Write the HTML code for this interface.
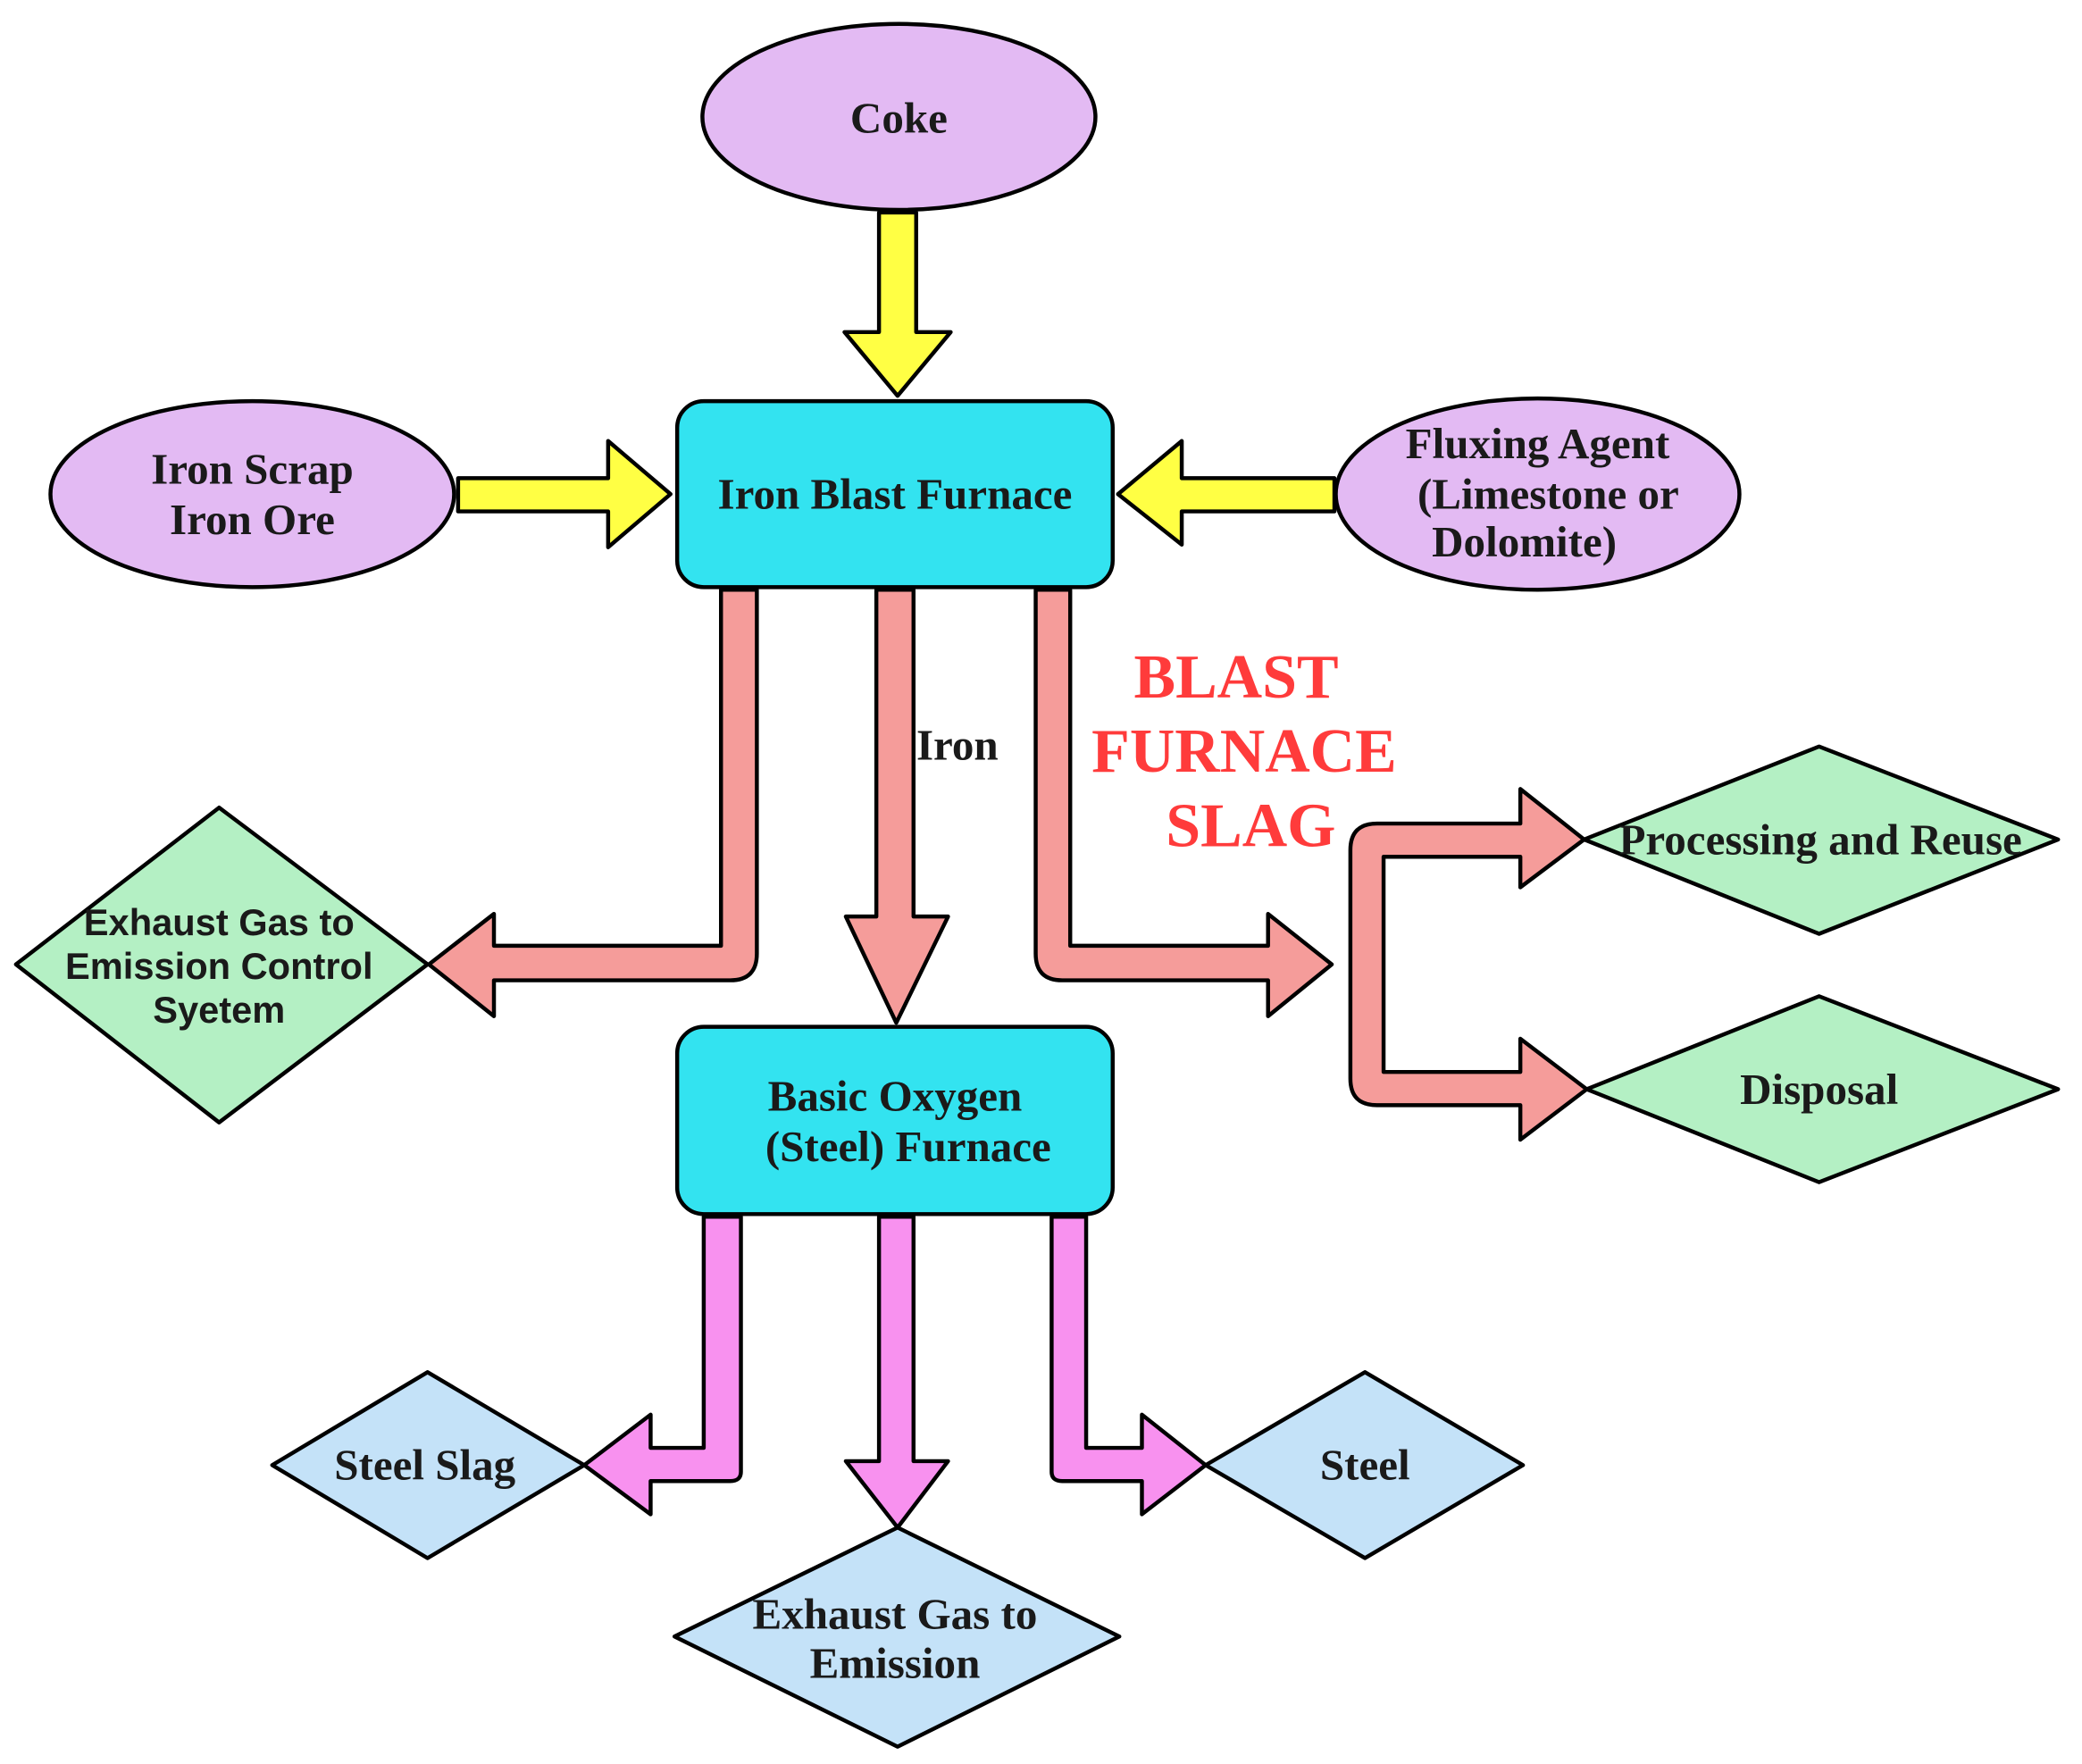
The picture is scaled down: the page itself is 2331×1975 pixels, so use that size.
<!DOCTYPE html>
<html><head><meta charset="utf-8"><style>
html,body{margin:0;padding:0;background:#fff;}
svg{display:block;}
.t{font-family:"Liberation Serif",serif;font-weight:bold;font-size:33px;fill:#1a1a1a;}
.s{font-family:"Liberation Sans",sans-serif;font-weight:bold;font-size:28px;fill:#1a1a1a;}
</style></head><body>
<svg width="2331" height="1975" viewBox="0 0 1568 1328" preserveAspectRatio="none" xmlns="http://www.w3.org/2000/svg">
<g stroke="#000" stroke-width="3" stroke-linejoin="round">
<ellipse cx="677" cy="88" rx="148" ry="70" fill="#e3baf3"/>
<ellipse cx="190" cy="372" rx="152" ry="70" fill="#e3baf3"/>
<ellipse cx="1158" cy="372" rx="152" ry="72" fill="#e3baf3"/>
<path d="M662 160 H690 V250 H716 L676 298 L636 250 H662 Z" fill="#ffff44"/>
<path d="M345 360 V385 H458 V412 L505 372 L458 332 V360 Z" fill="#ffff44"/>
<path d="M1005 360 V385 H890 V410 L842 372 L890 332 V360 Z" fill="#ffff44"/>
<rect x="510" y="302" width="328" height="140" rx="20" fill="#33e3f0"/>
<rect x="510" y="773" width="328" height="141" rx="20" fill="#33e3f0"/>
<path d="M543 444 H570 V718 Q570 738 550 738 H372 V765 L323 726 L372 688 V712 H543 Z" fill="#f59c9a"/>
<path d="M660 444 H688 V690 H714 L675 770 L637 690 H660 Z" fill="#f59c9a"/>
<path d="M780 444 H806 V712 H955 V688 L1003 726 L955 765 V738 H800 Q780 738 780 718 Z" fill="#f59c9a"/>
<path d="M1037 620 H1145 V594 L1193 632 L1145 668 V645 H1042 V807 H1145 V782 L1195 820 L1145 858 V832 H1037 Q1017 832 1017 812 V640 Q1017 620 1037 620 Z" fill="#f59c9a"/>
<path d="M530 916 H558 V1108 Q558 1115 550 1115 H490 V1140 L440 1103 L490 1065 V1090 H530 Z" fill="#f891ef"/>
<path d="M662 916 H688 V1100 H714 L676 1150 L637 1100 H662 Z" fill="#f891ef"/>
<path d="M792 916 H818 V1090 H860 V1065 L908 1103 L860 1140 V1115 H800 Q792 1115 792 1108 Z" fill="#f891ef"/>
<polygon points="1193,632 1370,562 1550,632 1370,703" fill="#b4f0c4"/>
<polygon points="1195,820 1370,750 1550,820 1370,890" fill="#b4f0c4"/>
<polygon points="12,726 165,608 322,726 165,845" fill="#b4f0c4"/>
<polygon points="205,1103 322,1033 440,1103 322,1173" fill="#c4e2f8"/>
<polygon points="908,1103 1028,1033 1147,1103 1028,1173" fill="#c4e2f8"/>
<polygon points="508,1232 676,1150 843,1232 676,1315" fill="#c4e2f8"/>
</g>
<g text-anchor="middle">
<text class="t" x="677" y="100">Coke</text>
<text class="t" x="190" y="364">Iron Scrap</text>
<text class="t" x="190" y="402">Iron Ore</text>
<text class="t" x="1158" y="345">Fluxing Agent</text>
<text class="t" x="1166" y="383">(Limestone or</text>
<text class="t" x="1148" y="419">Dolomite)</text>
<text class="t" x="674" y="383">Iron Blast Furnace</text>
<text class="t" x="674" y="836">Basic Oxygen</text>
<text class="t" x="684" y="874">(Steel)  Furnace</text>
<text class="t" x="721" y="572">Iron</text>
<text x="931" y="525" style="font-family:'Liberation Serif',serif;font-weight:bold;font-size:47px;fill:#ff3b3b">BLAST</text>
<text x="937" y="581" style="font-family:'Liberation Serif',serif;font-weight:bold;font-size:47px;fill:#ff3b3b">FURNACE</text>
<text x="942" y="637" style="font-family:'Liberation Serif',serif;font-weight:bold;font-size:47px;fill:#ff3b3b">SLAG</text>
<text class="t" x="1371" y="643">Processing and Reuse</text>
<text class="t" x="1370" y="831">Disposal</text>
<text class="s" x="165" y="704">Exhaust Gas to</text>
<text class="s" x="165" y="737">Emission Control</text>
<text class="s" x="165" y="770">Syetem</text>
<text class="t" x="320" y="1114">Steel Slag</text>
<text class="t" x="1028" y="1114">Steel</text>
<text class="t" x="674" y="1226">Exhaust Gas to</text>
<text class="t" x="674" y="1263">Emission</text>
</g>
</svg>
</body></html>
